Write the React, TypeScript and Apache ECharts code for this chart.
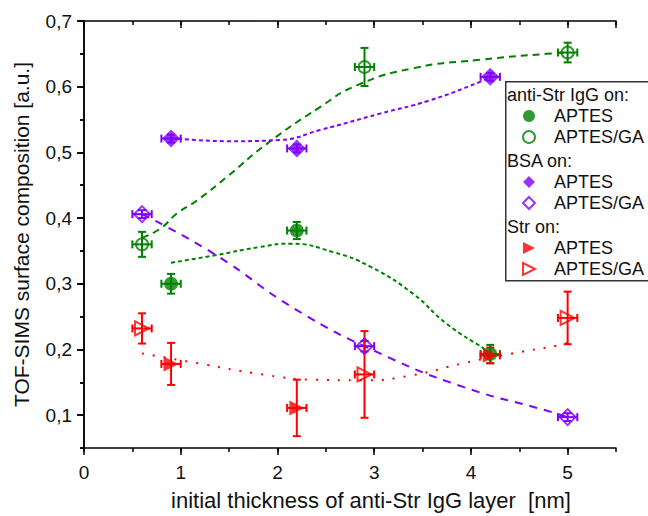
import React, { useEffect, useRef } from "react";
import * as echarts from "echarts";

const FONT = "Liberation Sans";
const GREEN = "#008000";
const PURPLE = "#8000ff";
const RED = "#ff0000";

// x positions (nm)
const xFilled = [0.9, 2.2, 4.2];
const xOpen = [0.6, 2.9, 5.0];
const xErr = [0.1, 0.1, 0.1];

// anti-Str IgG on:
const antiAPTES_y = [0.3, 0.381, 0.193];
const antiAPTES_yErr = [0.015, 0.013, 0.014];
const antiGA_y = [0.36, 0.63, 0.652];
const antiGA_yErr = [0.019, 0.029, 0.015];
// BSA on:
const bsaAPTES_y = [0.521, 0.506, 0.615];
const bsaAPTES_yErr = [0.006, 0.006, 0.006];
const bsaGA_y = [0.406, 0.205, 0.097];
const bsaGA_yErr = [0.006, 0.008, 0.006];
// Str on:
const strAPTES_y = [0.178, 0.111, 0.191];
const strAPTES_yErr = [0.032, 0.043, 0.012];
const strGA_y = [0.232, 0.162, 0.248];
const strGA_yErr = [0.023, 0.066, 0.04];

// trend curves
const antiGA_fit = [[0.6, 0.37], [0.79, 0.384], [0.96, 0.407], [1.17, 0.427], [1.48, 0.463], [1.89, 0.513], [2.44, 0.569], [2.82, 0.602], [3.4, 0.628], [4.09, 0.641], [4.78, 0.65], [5.0, 0.652]];
const antiAPTES_fit = [[0.9, 0.332], [1.34, 0.343], [1.82, 0.356], [2.13, 0.361], [2.58, 0.348], [2.96, 0.326], [3.4, 0.285], [3.75, 0.239], [4.16, 0.199], [4.2, 0.195]];
const bsaAPTES_fit = [[0.9, 0.522], [1.51, 0.517], [2.03, 0.519], [2.44, 0.534], [3.06, 0.559], [3.57, 0.579], [4.09, 0.607], [4.2, 0.615]];
const bsaGA_fit = [[0.6, 0.406], [1.34, 0.346], [2.2, 0.26], [3.06, 0.194], [3.92, 0.143], [4.78, 0.107], [5.0, 0.097]];
const str_fit = [[0.6, 0.194], [1.1, 0.181], [1.89, 0.161], [2.37, 0.154], [2.89, 0.153], [3.4, 0.161], [3.92, 0.179], [4.43, 0.194], [4.9, 0.206], [5.0, 0.21]];

const yTickValues = [0.1, 0.2, 0.3, 0.4, 0.5, 0.6, 0.7];
const groupHeaders = ["anti-Str IgG on:", "BSA on:", "Str on:"];
const subNames = ["APTES", "APTES/GA"];

const TRI = "path://M0,0L10,5L0,10Z";

function pts(xs: number[], ys: number[]) {
  return xs.map((x, i) => [x, ys[i]]);
}
function errPts(xs: number[], ys: number[], xe: number[], ye: number[]) {
  return xs.map((x, i) => [x, ys[i], xe[i], ye[i]]);
}

function errorSeries(data: number[][], color: string) {
  return {
    type: "custom",
    xAxisIndex: 0,
    yAxisIndex: 0,
    data,
    encode: { x: 0, y: 1 },
    z: 3,
    silent: true,
    renderItem: (params: any, api: any) => {
      const x = api.value(0), y = api.value(1), ex = api.value(2), ey = api.value(3);
      const top = api.coord([x, y + ey]);
      const bot = api.coord([x, y - ey]);
      const l = api.coord([x - ex, y]);
      const r = api.coord([x + ex, y]);
      const cap = 4;
      const style = { stroke: color, lineWidth: 2 };
      const ln = (x1: number, y1: number, x2: number, y2: number) => ({ type: "line", shape: { x1, y1, x2, y2 }, style });
      return {
        type: "group",
        children: [
          ln(top[0], top[1], bot[0], bot[1]),
          ln(top[0] - cap, top[1], top[0] + cap, top[1]),
          ln(bot[0] - cap, bot[1], bot[0] + cap, bot[1]),
          ln(l[0], l[1], r[0], r[1]),
          ln(l[0], l[1] - cap, l[0], l[1] + cap),
          ln(r[0], r[1] - cap, r[0], r[1] + cap),
        ],
      };
    },
  };
}

function fitSeries(data: number[][], color: string, dash: number[]) {
  return {
    type: "line",
    data,
    smooth: true,
    showSymbol: false,
    symbol: "none",
    silent: true,
    z: 2,
    lineStyle: { color, width: 2, type: dash },
  };
}

function scatter(name: string, data: number[][], symbol: string, size: number, color: string, hollow: boolean) {
  return {
    type: "scatter",
    name,
    data,
    symbol,
    symbolSize: size,
    z: 4,
    itemStyle: hollow
      ? { color: "rgba(255,255,255,0)", borderColor: color, borderWidth: 2 }
      : { color, borderColor: color, borderWidth: 0 },
  };
}

export default function App() {
  const ref = useRef<HTMLDivElement>(null);
  useEffect(() => {
    if (!ref.current) return;
    const chart = echarts.init(ref.current, undefined, { renderer: "svg" });
    const names = groupHeaders.map((h) => subNames.map((s) => h + " " + s));
    const axisLine = { show: true, lineStyle: { color: "#000", width: 1.5 } };
    const label = { color: "#111", fontSize: 19, fontFamily: FONT };
    const common = { min: 0, max: 5.5 };
    const ycommon = { min: 0.05, max: 0.7 };
    const option: any = {
      animation: false,
      backgroundColor: "#fff",
      grid: { left: 84, right: 32, top: 21, bottom: 68, containLabel: false },
      xAxis: [
        {
          type: "value", position: "bottom", ...common, interval: 1,
          axisLine, splitLine: { show: false },
          axisTick: { show: true, inside: false, length: 7, lineStyle: { color: "#000", width: 1.5 } },
          axisLabel: { ...label, margin: 15, showMaxLabel: false, formatter: (v: number) => String(v) },
          name: "initial thickness of anti-Str IgG layer  [nm]",
          nameLocation: "middle", nameGap: 41,
          nameTextStyle: { fontSize: 22, fontFamily: FONT, color: "#111", padding: [0, 0, 0, 42] },
        },
        {
          type: "value", position: "bottom", ...common, interval: 0.5,
          axisLine: { show: false }, splitLine: { show: false }, axisLabel: { show: false },
          axisTick: { show: true, inside: false, length: 4, lineStyle: { color: "#000", width: 1.5 } },
        },
        {
          type: "value", position: "top", ...common, interval: 1,
          axisLine, splitLine: { show: false }, axisLabel: { show: false },
          axisTick: { show: true, inside: true, length: 7, lineStyle: { color: "#000", width: 1.5 } },
        },
        {
          type: "value", position: "top", ...common, interval: 0.5,
          axisLine: { show: false }, splitLine: { show: false }, axisLabel: { show: false },
          axisTick: { show: true, inside: true, length: 4, lineStyle: { color: "#000", width: 1.5 } },
        },
      ],
      yAxis: [
        {
          type: "value", position: "left", ...ycommon,
          axisLine, splitLine: { show: false },
          axisTick: { show: true, inside: false, length: 7, customValues: yTickValues, lineStyle: { color: "#000", width: 1.5 } },
          axisLabel: { ...label, margin: 12, customValues: yTickValues, formatter: (v: number) => v.toFixed(1).replace(".", ",") },
          name: "TOF-SIMS surface composition [a.u.]",
          nameLocation: "middle", nameGap: 52,
          nameTextStyle: { fontSize: 21, fontFamily: FONT, color: "#111" },
        },
        {
          type: "value", position: "left", ...ycommon, interval: 0.05,
          axisLine: { show: false }, splitLine: { show: false }, axisLabel: { show: false },
          axisTick: { show: true, inside: false, length: 4, lineStyle: { color: "#000", width: 1.5 } },
        },
        {
          type: "value", position: "right", ...ycommon,
          axisLine, splitLine: { show: false }, axisLabel: { show: false },
          axisTick: { show: true, inside: true, length: 7, customValues: yTickValues, lineStyle: { color: "#000", width: 1.5 } },
        },
        {
          type: "value", position: "right", ...ycommon, interval: 0.05,
          axisLine: { show: false }, splitLine: { show: false }, axisLabel: { show: false },
          axisTick: { show: true, inside: true, length: 4, lineStyle: { color: "#000", width: 1.5 } },
        },
      ],
      legend: names.map((n, i) => ({
        orient: "vertical",
        left: 522,
        top: [105.5, 171.5, 237.5][i],
        padding: 0,
        itemWidth: 12,
        itemHeight: 12,
        itemGap: 0,
        selectedMode: false,
        z: 6,
        data: n,
        formatter: (name: string) => (name.endsWith("APTES/GA") ? "APTES/GA" : "APTES"),
        textStyle: { fontSize: 18, lineHeight: 21, fontFamily: FONT, color: "#111", padding: [0, 0, 0, 14] },
      })),
      graphic: [
        {
          type: "rect", left: 505, top: 81, z: 5,
          shape: { width: 170, height: 199 },
          style: { fill: "#fff", stroke: "#333", lineWidth: 1.5 },
        },
        ...groupHeaders.map((h, i) => ({
          type: "text", x: 507, y: [95, 161, 227][i], z: 7,
          style: { text: h, fontSize: 18, fontFamily: FONT, fill: "#111", verticalAlign: "middle" },
        })),
      ],
      series: [
        fitSeries(antiGA_fit, GREEN, [7, 5]),
        fitSeries(antiAPTES_fit, GREEN, [4, 3]),
        fitSeries(bsaAPTES_fit, PURPLE, [4, 3]),
        fitSeries(bsaGA_fit, PURPLE, [8, 7]),
        fitSeries(str_fit, RED, [2, 9]),
        errorSeries(errPts(xFilled, antiAPTES_y, xErr, antiAPTES_yErr), GREEN),
        errorSeries(errPts(xOpen, antiGA_y, xErr, antiGA_yErr), GREEN),
        errorSeries(errPts(xFilled, bsaAPTES_y, xErr, bsaAPTES_yErr), PURPLE),
        errorSeries(errPts(xOpen, bsaGA_y, xErr, bsaGA_yErr), PURPLE),
        errorSeries(errPts(xFilled, strAPTES_y, xErr, strAPTES_yErr), RED),
        errorSeries(errPts(xOpen, strGA_y, xErr, strGA_yErr), RED),
        scatter(names[0][0], pts(xFilled, antiAPTES_y), "circle", 14, GREEN, false),
        scatter(names[0][1], pts(xOpen, antiGA_y), "circle", 12, GREEN, true),
        scatter(names[1][0], pts(xFilled, bsaAPTES_y), "diamond", 18, PURPLE, false),
        scatter(names[1][1], pts(xOpen, bsaGA_y), "diamond", 16, PURPLE, true),
        scatter(names[2][0], pts(xFilled, strAPTES_y), TRI, 15, RED, false),
        scatter(names[2][1], pts(xOpen, strGA_y), TRI, 14, RED, true),
      ],
    };
    chart.setOption(option);
    return () => chart.dispose();
  }, []);
  return <div ref={ref} style={{ position: "absolute", left: 0, top: 0, width: 648, height: 516 }} />;
}
